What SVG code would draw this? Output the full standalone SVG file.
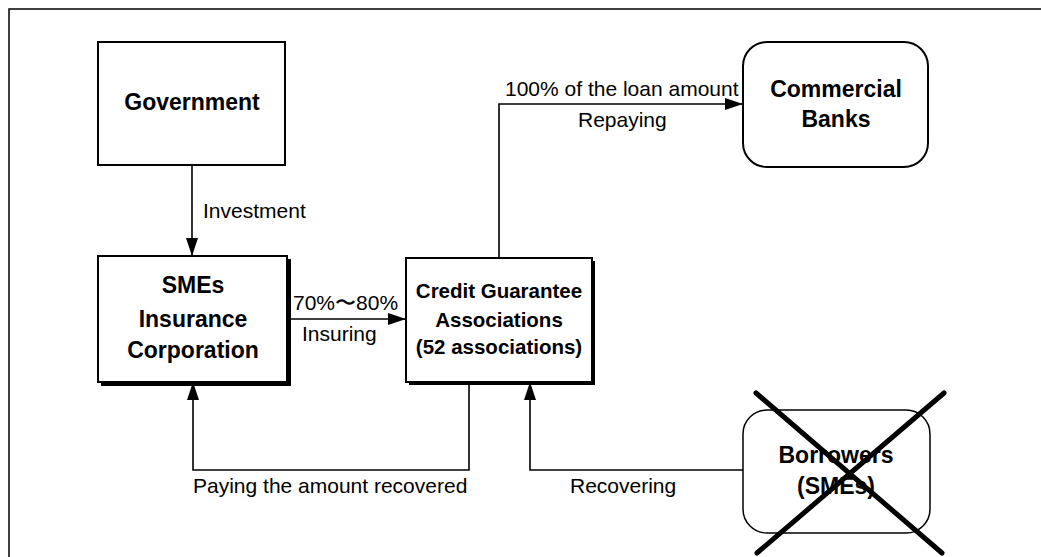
<svg xmlns="http://www.w3.org/2000/svg" width="1041" height="557" viewBox="0 0 1041 557">
<style>
.box{fill:#fff;stroke:#000;stroke-width:2}
.shadow{fill:#000}
.ln{fill:none;stroke:#000;stroke-width:1.6}
.nt{font-family:"Liberation Sans",Arial,sans-serif;font-weight:bold;font-size:23px;text-anchor:middle;fill:#000}
.nt2{font-family:"Liberation Sans",Arial,sans-serif;font-weight:bold;font-size:20.5px;text-anchor:middle;fill:#000}
.lb{font-family:"Liberation Sans",Arial,sans-serif;font-size:21px;fill:#000}
.x{stroke:#000;stroke-width:5;stroke-linecap:round}
</style>
<defs>
<marker id="ah" viewBox="0 0 18 12" refX="18" refY="6" markerWidth="18" markerHeight="12" markerUnits="userSpaceOnUse" orient="auto">
<path d="M0,0 L18,6 L0,12 Z" fill="#000"/>
</marker>
</defs>
<rect width="1041" height="557" fill="#fff"/>
<path d="M9,557 V9 H1041" fill="none" stroke="#000" stroke-width="1.5"/>
<g id="government">
<rect class="box" x="98" y="42" width="187" height="123"/>
<text class="nt" x="192" y="110">Government</text>
</g>
<g id="commercial-banks">
<rect class="box" x="743" y="42" width="185" height="125" rx="24"/>
<text class="nt" x="836" y="97">Commercial</text>
<text class="nt" x="836" y="127">Banks</text>
</g>
<g id="smes-insurance">
<rect class="shadow" x="101" y="259" width="190" height="127"/>
<rect class="box" x="98" y="256" width="189" height="126"/>
<text class="nt" x="193" y="293">SMEs</text>
<text class="nt" x="193" y="327">Insurance</text>
<text class="nt" x="193" y="358">Corporation</text>
</g>
<g id="credit-guarantee">
<rect class="shadow" x="409" y="261" width="186" height="124"/>
<rect class="box" x="406" y="258" width="186" height="124"/>
<text class="nt2" x="499" y="298">Credit Guarantee</text>
<text class="nt2" x="499" y="327">Associations</text>
<text class="nt2" x="499" y="354">(52 associations)</text>
</g>
<g id="borrowers">
<rect class="box" x="743" y="410" width="187" height="123" rx="24" style="stroke-width:1.5"/>
<text class="nt" x="836" y="463">Borrowers</text>
<text class="nt" x="836" y="494">(SMEs)</text>
<line class="x" x1="756" y1="393" x2="942" y2="553"/>
<line class="x" x1="944" y1="393" x2="757" y2="553"/>
</g>
<g id="connectors">
<line class="ln" x1="192" y1="165" x2="192" y2="256" marker-end="url(#ah)"/>
<line class="ln" x1="287" y1="319" x2="406" y2="319" marker-end="url(#ah)"/>
<polyline class="ln" points="499,258 499,104 743,104" marker-end="url(#ah)"/>
<polyline class="ln" points="469,382 469,470 193,470 193,382" marker-end="url(#ah)"/>
<polyline class="ln" points="743,470 530,470 530,382" marker-end="url(#ah)"/>
</g>
<g id="labels">
<text class="lb" x="203" y="218">Investment</text>
<text class="lb" x="293" y="310">70%〜80%</text>
<text class="lb" x="302" y="341">Insuring</text>
<text class="lb" x="505" y="96">100% of the loan amount</text>
<text class="lb" x="578" y="127">Repaying</text>
<text class="lb" x="193" y="493">Paying the amount recovered</text>
<text class="lb" x="570" y="493">Recovering</text>
</g>
</svg>
